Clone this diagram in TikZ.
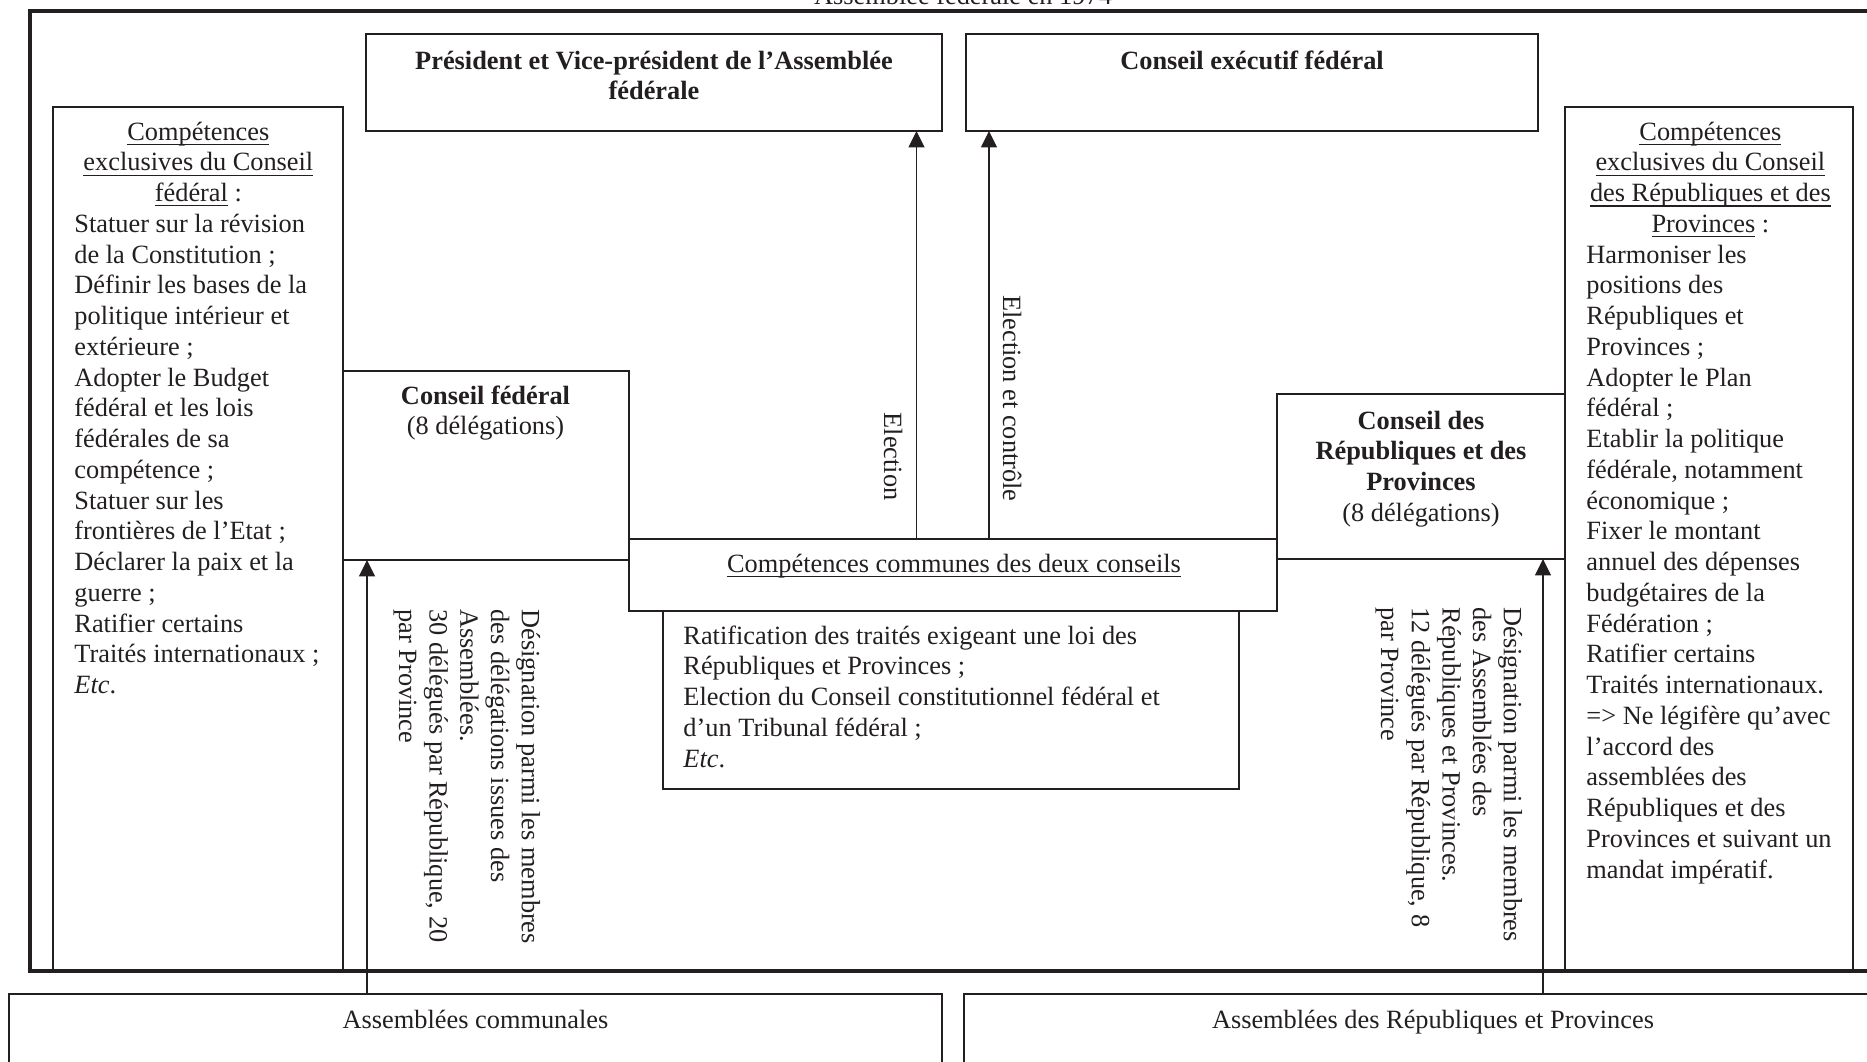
\documentclass[tikz,border=0pt]{standalone}
\usepackage{fontspec}
\setmainfont{Liberation Serif}
\usetikzlibrary{arrows.meta}
\definecolor{encre}{RGB}{35,31,32}
\newcommand{\upx}{0.016cm}
\newcommand{\cadreboite}[5]{\node[cadre, minimum width={(#4-#2)*\upx}, minimum height={(#5-#3)*\upx}] (#1) at ({(#2+#4)/2},{(#3+#5)/2}) {};}
\newcommand{\entete}[1]{\makebox[3.968cm]{#1}}
\newcommand{\soulign}[1]{\setbox0\hbox{#1}\rlap{\rule[-2.2pt]{\wd0}{0.55pt}}\box0\relax}

\begin{document}
\begin{tikzpicture}[x=0.016cm,y=-0.016cm,
	cadre/.style={draw=encre,line width=0.5pt,inner sep=0pt,outer sep=0pt},
	texte/.style={text=encre,font=\fontsize{12}{14}\selectfont,inner sep=0pt},
	fleche/.style={draw=encre,line width=0.5pt,-{Triangle[width=7.3pt,length=7.5pt]}}]
	\useasboundingbox (0,0) rectangle (1867,1061);
	\node[cadre, line width=1.4pt, minimum width=1870*\upx, minimum height=960*\upx] (assemblee) at (965,491) {};
	\node[texte, anchor=base] (t-assemblee) at (963,4) {Assemblée fédérale en 1974};
	\cadreboite{pres}{366}{34}{942}{131}
	\cadreboite{exec}{966}{34}{1538}{131}
	\cadreboite{compg}{53}{107}{343}{971}
	\cadreboite{compd}{1565}{107}{1853}{971}
	\cadreboite{cf}{343}{371}{629}{560}
	\cadreboite{crp}{1277}{394}{1565}{559}
	\cadreboite{cc}{629}{539}{1277}{611}
	\cadreboite{rat}{663}{611}{1239}{789}
	\cadreboite{ac}{9}{994}{942}{1090}
	\cadreboite{arp}{964}{994}{1904}{1090}

	\node[texte, align=center, anchor=base] (t-pres) at (654,99.75) {\textbf{Président et Vice-président de l'Assemblée}\\\textbf{fédérale}};
	\node[texte, anchor=base] (t-exec) at (1252,69) {\textbf{Conseil exécutif fédéral}};
	\node[texte, align=center, anchor=base] (t-cf) at (485.5,434.75) {\textbf{Conseil fédéral}\\(8 délégations)};
	\node[texte, align=center, anchor=base] (t-crp) at (1421,521.25) {\textbf{Conseil des}\\\textbf{Républiques et des}\\\textbf{Provinces}\\(8 délégations)};
	\node[texte, anchor=base] (t-cc) at (954,572) {\soulign{Compétences communes des deux conseils}};
	\node[texte, align=left, anchor=base west] (t-rat) at (683,767) {Ratification des traités exigeant une loi des\\Républiques et Provinces ;\\Election du Conseil constitutionnel fédéral et\\d'un Tribunal fédéral ;\\\textit{Etc}.};
	\node[texte, anchor=base] (t-ac) at (475.5,1028) {Assemblées communales};
	\node[texte, anchor=base] (t-arp) at (1433,1028) {Assemblées des Républiques et Provinces};

	\node[texte, align=left, anchor=base west] (t-compg) at (74,693.5) {\entete{\soulign{Compétences}}\\\entete{\soulign{exclusives du Conseil}}\\\entete{\soulign{fédéral} :}\\Statuer sur la révision\\de la Constitution ;\\Définir les bases de la\\politique intérieur et\\extérieure ;\\Adopter le Budget\\fédéral et les lois\\fédérales de sa\\compétence ;\\Statuer sur les\\frontières de l'Etat ;\\Déclarer la paix et la\\guerre ;\\Ratifier certains\\Traités internationaux ;\\\textit{Etc}.};
	\node[texte, align=left, anchor=base west] (t-compd) at (1586,878) {\entete{\soulign{Compétences}}\\\entete{\soulign{exclusives du Conseil}}\\\entete{\soulign{des Républiques et des}}\\\entete{\soulign{Provinces} :}\\Harmoniser les\\positions des\\Républiques et\\Provinces ;\\Adopter le Plan\\fédéral ;\\Etablir la politique\\fédérale, notamment\\économique ;\\Fixer le montant\\annuel des dépenses\\budgétaires de la\\Fédération ;\\Ratifier certains\\Traités internationaux.\\=> Ne légifère qu'avec\\l'accord des\\assemblées des\\Républiques et des\\Provinces et suivant un\\mandat impératif.};

	\coordinate (xe) at (916.5,0);
	\coordinate (xc) at (989,0);
	\coordinate (xg) at (367,0);
	\coordinate (xd) at (1543,0);
	\draw[fleche] (cc.north -| xe) -- (pres.south -| xe);
	\draw[fleche] (cc.north -| xc) -- (exec.south -| xc);
	\draw[fleche] (ac.north -| xg) -- (cf.south -| xg);
	\draw[fleche] (arp.north -| xd) -- (crp.south -| xd);
	\node[texte, rotate=-90, anchor=base east] (t-e) at (884,501) {Election};
	\node[texte, rotate=-90, anchor=base east] (t-ec) at (1003,502) {Election et contrôle};
	\node[texte, rotate=-90, align=left, anchor=base west] (t-dg) at (399,609) {Désignation parmi les membres\\des délégations issues des\\Assemblées.\\30 délégués par République, 20\\par Province};
	\node[texte, rotate=-90, align=left, anchor=base west] (t-dd) at (1381,607) {Désignation parmi les membres\\des Assemblées des\\Républiques et Provinces.\\12 délégués par République, 8\\par Province};
\end{tikzpicture}
\end{document}
